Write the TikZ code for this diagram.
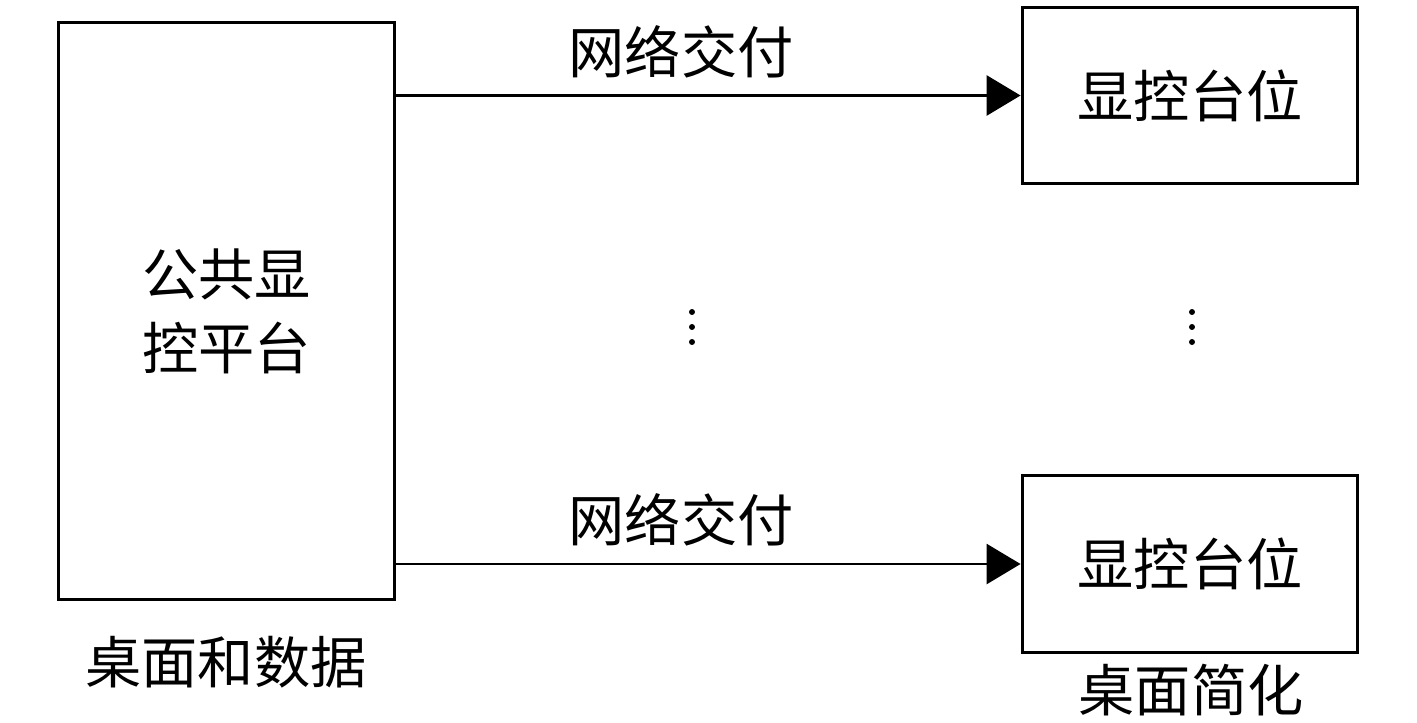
\documentclass[tikz,border=0pt]{standalone}
\usepackage{fontspec}
\newfontfamily\cjk{Noto Sans CJK SC}
\usetikzlibrary{arrows.meta}
\tikzset{
	box/.style={draw, line width=1.7pt, inner sep=0pt, font=\cjk\fontsize{32}{42}\selectfont, align=center},
	label/.style={inner sep=0pt, font=\cjk\fontsize{32}{42}\selectfont},
	link/.style={line width=1.7pt, -{Triangle[length=0.68cm,width=0.8cm]}}
}
\begin{document}
\begin{tikzpicture}[x=0.02cm,y=-0.02cm]
	\useasboundingbox (0,0) rectangle (1417,723);
	\node[box, minimum width=6.74cm, minimum height=11.56cm] (platform) at (226.5,311) {公共显\\控平台};
	\node[box, minimum width=6.72cm, minimum height=3.54cm] (seatA) at (1190,95.5) {显控台位};
	\node[box, minimum width=6.72cm, minimum height=3.54cm] (seatB) at (1190,564) {显控台位};
	\draw[link] (platform.east |- seatA.west) -- (seatA.west);
	\draw[link] (platform.east |- seatB.west) -- (seatB.west);
	\node[label] (netA) at (681,52) {网络交付};
	\node[label] (netB) at (681,520) {网络交付};
	\node[label] (desk) at (226,662) {桌面和数据};
	\node[label] (simple) at (1191,690) {桌面简化};
	% dots
	\foreach \y in {312,327,342} {
		\fill (692,\y) circle (1.7pt);
		\fill (1192,\y) circle (1.7pt);
	}
\end{tikzpicture}
\end{document}
